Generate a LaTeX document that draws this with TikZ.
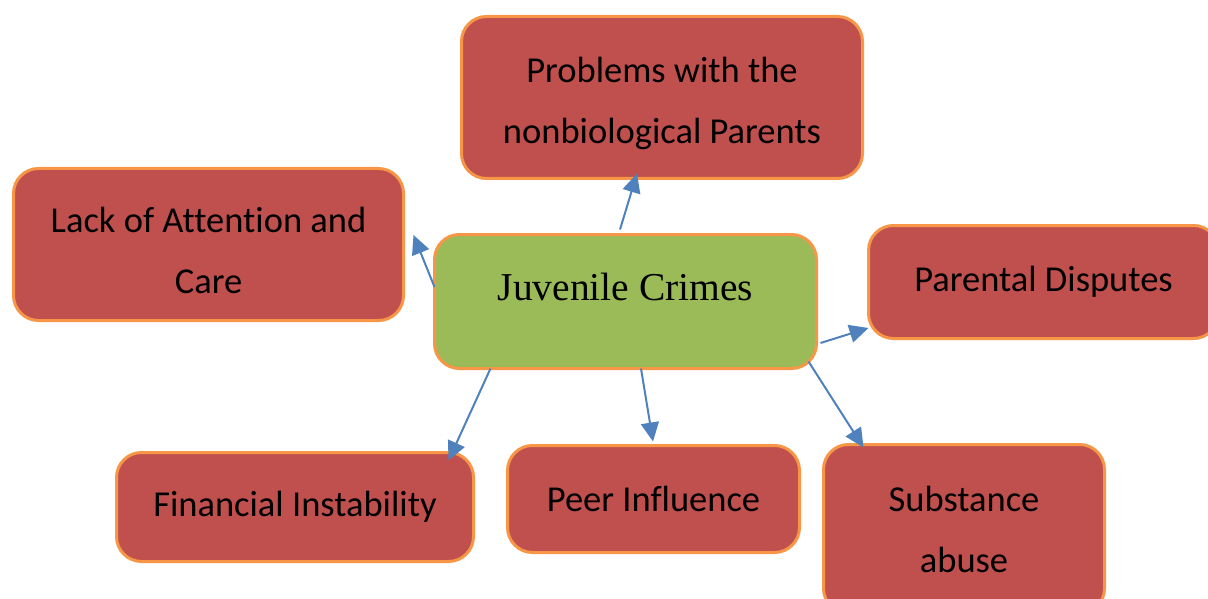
\documentclass[tikz,border=0pt]{standalone}
\usepackage{fontspec}
\setmainfont[Ligatures=NoCommon]{Carlito}
\newfontfamily\timesfont{Liberation Serif}
\usetikzlibrary{calc,arrows.meta}
\definecolor{causered}{HTML}{C0504D}
\definecolor{edgeorange}{HTML}{F79646}
\definecolor{crimegreen}{HTML}{9BBB59}
\definecolor{linkblue}{HTML}{4F81BD}
\tikzset{
    x=1pt,
    y=-1pt,
    cause/.style = {
        draw=edgeorange,
        fill=causered,
        shape=rectangle,
        rounded corners=25pt,
        line width=3pt,
        inner sep=0pt,
        outer sep=0pt,
        align=center,
        font=\fontsize{36.5}{61}\selectfont
    },
    crime/.style = {
        cause,
        fill=crimegreen,
        text depth=30pt,
        font=\timesfont\fontsize{39.5}{48}\selectfont
    },
    link/.style = {
        draw=linkblue,
        line width=2pt
    },
    >={Triangle[length=19pt,width=18pt]},
}

\begin{document}
\begin{tikzpicture}
            \useasboundingbox (0,0) rectangle (1208,599);
            \clip (0,0) rectangle (1208,599);

            \node[crime, minimum width=382pt, minimum height=134pt] (juv) at (625.5,301.5) {Juvenile Crimes};

            \node[cause, minimum width=401pt, minimum height=162pt, text height=99pt] (prob) at (662,97.5) {Problems with the\\nonbiological Parents};
            \node[cause, minimum width=390pt, minimum height=152pt, text height=99pt] (lack) at (208.5,244.5) {Lack of Attention and\\Care};
            \node[cause, minimum width=350pt, minimum height=113pt] (par) at (1043.5,282) {Parental Disputes};
            \node[cause, minimum width=357pt, minimum height=109pt] (fin) at (295,507) {Financial Instability};
            \node[cause, minimum width=292pt, minimum height=107pt] (peer) at (653.5,499) {Peer Influence};
            \node[cause, minimum width=281pt, minimum height=169pt] (subst) at (964,529) {Substance\\abuse};

            \path[link, ->] ($(juv.north)+(-5.5,-5)$) -- ($(prob.south)+(-25,-5)$);
            \path[link, ->] ($(juv.west)+(0,-14.5)$) -- ($(lack.east)+(10,-9.5)$);
            \path[link, ->] ($(juv.east)+(4,41.5)$) -- ($(par.west)+(0,46)$);
            \path[link, ->] ($(juv.south east)+(-8,-7)$) -- ($(subst.north west)+(40,3)$);
            \path[link, ->] ($(juv.south west)+(56,0)$) -- ($(fin.north east)+(-25,8)$);
            \path[link, ->] ($(juv.south)+(15.5,0)$) -- ($(peer.north)+(-0.5,-4)$);

        \end{tikzpicture}
\end{document}
